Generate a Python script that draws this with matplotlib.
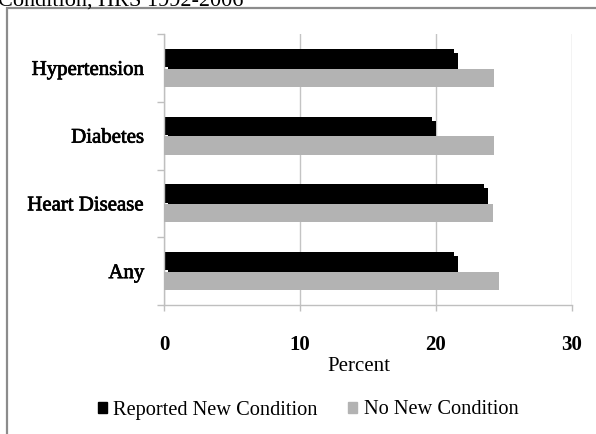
import matplotlib.pyplot as plt
import matplotlib.patheffects as pe
from matplotlib.patches import Rectangle
import numpy as np

# condition groups, drawn bottom to top
categories = ['Any', 'Heart Disease', 'Diabetes', 'Hypertension']
reported_new = [21.3, 23.5, 19.7, 21.3]
no_new = [24.6, 24.2, 24.3, 24.3]
xticks = [0, 10, 20, 30]

plt.rcParams['font.family'] = ['Liberation Serif', 'DejaVu Serif']

W, H = 596, 434
fig = plt.figure(figsize=(W / 100, H / 100), dpi=100)

# outer chart frame, partly cut off at right and bottom
fig.patches.append(Rectangle((7 / W, -0.05), 1.2, 1 - 8 / H + 0.05,
                             transform=fig.transFigure, fill=False,
                             edgecolor='#8c8c8c', linewidth=1.6))
fig.text(-2 / W, 1 - 6 / H, 'Condition, HRS 1992-2006', fontsize=16,
         ha='left', va='baseline')

ax = fig.add_axes([164 / W, 1 - 305 / H, 408 / W, 271 / H])
y = np.arange(len(categories))
h = 0.27
off = 0.145

ax.barh(y + off, reported_new, height=h, color='black', zorder=2,
        path_effects=[pe.SimplePatchShadow(offset=(3.2, -2.8),
                                           shadow_rgbFace='black', alpha=1),
                      pe.Normal()])
ax.barh(y - off, no_new, height=h, color='#b3b3b3', zorder=3)

ax.set_xlim(0, 30)
ax.set_ylim(-0.5, 3.5)
ax.set_xticks(xticks)
ax.set_xticklabels([str(t) for t in xticks], fontsize=15, fontweight='bold')
ax.set_yticks(y)
ax.set_yticklabels(categories, fontsize=15)
for lab in ax.get_yticklabels():
    lab.set_path_effects([pe.withStroke(linewidth=0.5, foreground='black')])
ax.tick_params(axis='y', length=0, pad=14)
ax.set_yticks(np.arange(-0.5, 4.0, 1.0), minor=True)
ax.tick_params(axis='y', which='minor', length=5, color='#bfbfbf', width=1)
ax.tick_params(axis='x', length=4.5, color='#bfbfbf', width=1, pad=17)

ax.grid(axis='x', color='#c4c4c4', linewidth=1, zorder=0)
for side in ['top', 'right']:
    ax.spines[side].set_visible(False)
for side in ['left', 'bottom']:
    ax.spines[side].set_color('#bfbfbf')
    ax.spines[side].set_linewidth(1)

fig.text(359 / W, 1 - 371 / H, 'Percent', fontsize=15, ha='center',
         va='baseline')

handles = [Rectangle((0, 0), 1, 1, color='black'),
           Rectangle((0, 0), 1, 1, color='#b3b3b3')]
fig.legend(handles, ['Reported New Condition', 'No New Condition'],
           loc='center', bbox_to_anchor=(308 / W, 1 - 410 / H), ncol=2,
           frameon=False, fontsize=14.7, handlelength=0.45, handleheight=0.45,
           handletextpad=0.3, columnspacing=1.5)

fig.savefig('out.png', dpi=100)
